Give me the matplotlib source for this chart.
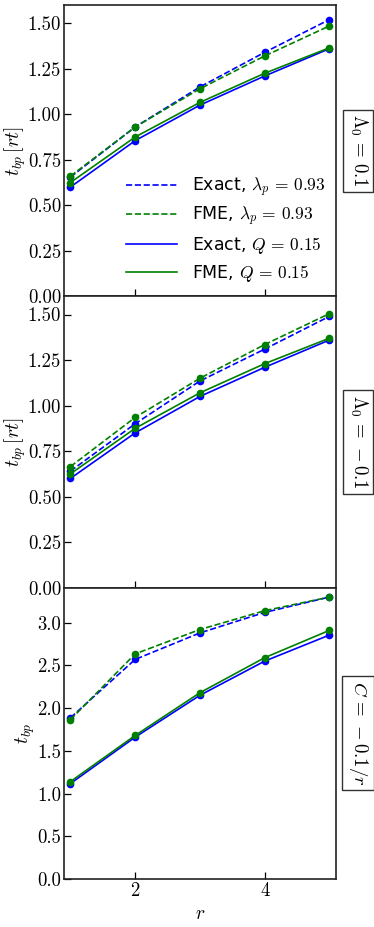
import numpy as np
import matplotlib
matplotlib.use('Agg')
import matplotlib.pyplot as plt

plt.rcParams['mathtext.fontset'] = 'cm'
plt.rcParams['font.family'] = 'cmr10'
plt.rcParams['axes.formatter.use_mathtext'] = True

r = [1, 2, 3, 4, 5]

# panel 1: Lambda_0 = 0.1
p1_exact_lam = [0.655, 0.93, 1.15, 1.34, 1.52]
p1_fme_lam = [0.66, 0.93, 1.14, 1.32, 1.485]
p1_exact_q = [0.60, 0.855, 1.05, 1.21, 1.36]
p1_fme_q = [0.625, 0.875, 1.065, 1.225, 1.365]

# panel 2: Lambda_0 = -0.1
p2_exact_lam = [0.64, 0.90, 1.135, 1.31, 1.49]
p2_fme_lam = [0.665, 0.935, 1.15, 1.335, 1.505]
p2_exact_q = [0.60, 0.85, 1.05, 1.21, 1.36]
p2_fme_q = [0.625, 0.875, 1.07, 1.23, 1.37]

# panel 3: C = -0.1/r
p3_exact_lam = [1.887, 2.57, 2.88, 3.12, 3.30]
p3_fme_lam = [1.865, 2.635, 2.92, 3.14, 3.30]
p3_exact_q = [1.117, 1.66, 2.15, 2.55, 2.855]
p3_fme_q = [1.14, 1.68, 2.18, 2.59, 2.91]

labels = [r'Exact, $\lambda_p\,=\,0.93$', r'FME, $\lambda_p\,=\,0.93$',
          r'Exact, $Q\,=\,0.15$', r'FME, $Q\,=\,0.15$']
side_text = [r'$\Lambda_0\,=\,0.1$', r'$\Lambda_0\,=\,-0.1$', r'$C\,=\,-0.1/r$']
ylabels = [r'$t_{bp}\,[rt]$', r'$t_{bp}\,[rt]$', r'$t_{bp}$']

panels = [
    (p1_exact_lam, p1_fme_lam, p1_exact_q, p1_fme_q),
    (p2_exact_lam, p2_fme_lam, p2_exact_q, p2_fme_q),
    (p3_exact_lam, p3_fme_lam, p3_exact_q, p3_fme_q),
]

fig, axes = plt.subplots(3, 1, figsize=(3.74, 9.27), dpi=100, sharex=True)
fig.subplots_adjust(left=0.171, right=0.898, top=0.9946, bottom=0.0518, hspace=0)

styles = [('blue', '--'), ('green', '--'), ('blue', '-'), ('green', '-')]

for i, ax in enumerate(axes):
    for series, (c, ls), lab in zip(panels[i], styles, labels):
        ax.plot(r, series, color=c, ls=ls, lw=1.2, marker='o', ms=4.5, label=lab)
    ax.set_xlim(0.9, 5.1)
    ax.set_ylabel(ylabels[i], fontsize=14, labelpad=0)
    ax.tick_params(direction='in', labelsize=13.5, length=5, width=0.9, pad=2)
    for s in ax.spines.values():
        s.set_linewidth(1.2)
        s.set_color('#222222')
    ax.text(1.082, 0.5, side_text[i], transform=ax.transAxes, rotation=-90,
            ha='center', va='center', fontsize=13.5,
            bbox=dict(boxstyle='square,pad=0.25', fc='white', ec='#333333', lw=1.0))

for ax in axes[:2]:
    ax.set_ylim(0, 1.6)
    ax.set_yticks(np.arange(0, 1.51, 0.25))
    ax.set_yticklabels(['%.2f' % v for v in np.arange(0, 1.51, 0.25)])
axes[2].set_ylim(0, 3.41)
axes[2].set_yticks(np.arange(0, 3.01, 0.5))
axes[2].set_yticklabels(['%.1f' % v for v in np.arange(0, 3.01, 0.5)])
axes[2].set_xticks([2, 4])
axes[2].set_xticklabels(['2', '4'])
axes[2].set_xlabel(r'$r$', fontsize=14)

leg = axes[0].legend(loc='lower right', bbox_to_anchor=(1.02, -0.01), frameon=False,
                     handlelength=2.9, labelspacing=0.38, handletextpad=0.9,
                     prop={'family': 'DejaVu Sans', 'size': 12.5})
for h in leg.legend_handles:
    h.set_marker('')

fig.savefig('out.png', dpi=100)
